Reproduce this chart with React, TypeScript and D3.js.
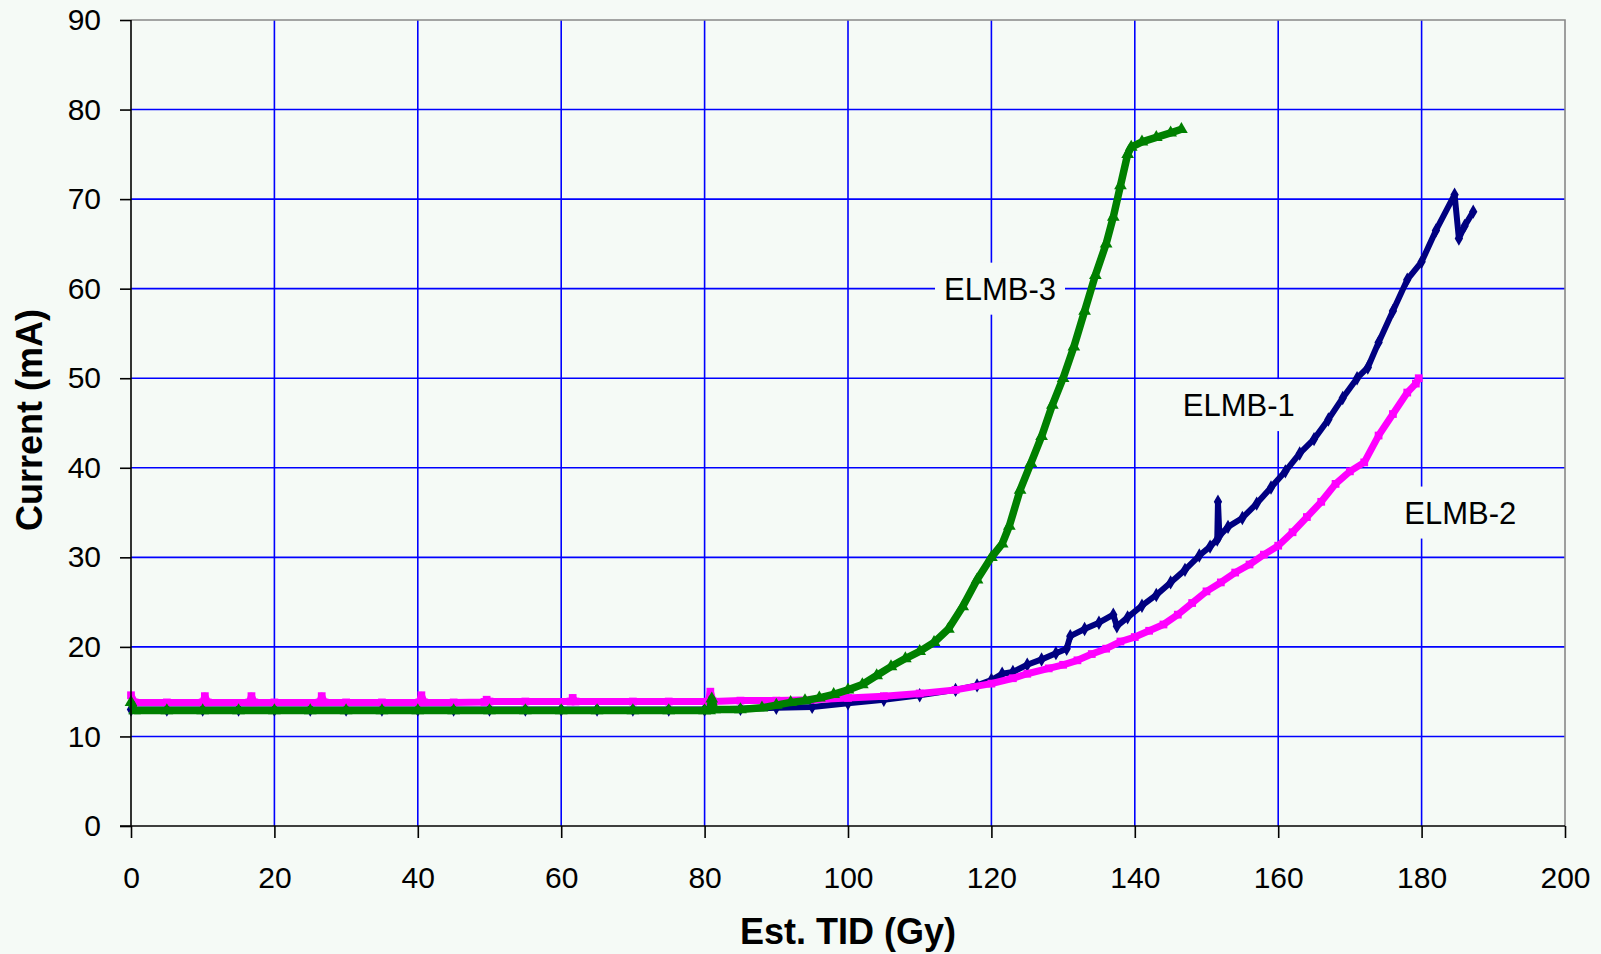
import React, { useEffect, useRef } from 'react';
import * as d3 from 'd3';

// ELMB-1 (navy, diamonds)
const elmb1X = [0, 5, 10, 15, 20, 25, 30, 35, 40, 45, 50, 55, 60, 65, 70, 75, 80, 85, 90, 95, 100, 105, 110, 115, 118, 120, 121.5, 123, 125, 127, 129, 130.5, 131, 133, 135, 137, 137.5, 139, 141, 143, 145, 147, 149, 150.5, 151.5, 151.6, 151.8, 153, 155, 157, 159, 161, 163, 165, 167, 169, 171, 172.5, 174, 176, 178, 180, 182, 184.6, 185.2, 186, 187.2];
const elmb1Y = [13.0, 13.0, 13.0, 13.0, 13.0, 13.0, 13.0, 13.0, 13.0, 13.0, 13.0, 13.0, 13.0, 13.0, 13.0, 13.0, 13.0, 13.1, 13.2, 13.3, 13.7, 14.1, 14.6, 15.2, 15.7, 16.3, 17.0, 17.2, 18.0, 18.6, 19.3, 19.8, 21.2, 22.0, 22.7, 23.6, 22.3, 23.3, 24.6, 25.8, 27.2, 28.6, 30.2, 31.2, 32.0, 36.2, 32.4, 33.4, 34.4, 36.0, 37.8, 39.6, 41.6, 43.2, 45.4, 47.8, 50.0, 51.2, 54.0, 57.5, 61.0, 63.0, 66.5, 70.5, 65.6, 67.0, 68.6];

// ELMB-2 (magenta, squares)
const elmb2X = [0, 0.5, 5, 10, 10.3, 10.7, 16.5, 16.8, 17.2, 20, 26.3, 26.6, 27, 30, 35, 40.2, 40.5, 40.9, 45, 49.3, 49.6, 50, 55, 61.3, 61.6, 62, 70, 75, 80.5, 80.8, 81.2, 85, 90, 95, 100, 105, 110, 115, 120, 123, 125, 128, 130, 132, 134, 136, 138, 140, 142, 144, 146, 148, 150, 152, 154, 156, 158, 160, 162, 164, 166, 168, 170, 172, 174, 176, 178, 179.2, 179.6];
const elmb2Y = [14.6, 13.8, 13.8, 13.8, 14.5, 13.8, 13.8, 14.5, 13.8, 13.8, 13.8, 14.5, 13.8, 13.8, 13.8, 13.8, 14.6, 13.8, 13.8, 13.85, 14.1, 13.9, 13.9, 13.9, 14.3, 13.9, 13.9, 13.9, 13.9, 15.0, 13.9, 14.0, 14.0, 14.1, 14.3, 14.5, 14.8, 15.2, 15.9, 16.5, 17.0, 17.6, 18.0, 18.5, 19.2, 19.8, 20.6, 21.1, 21.8, 22.5, 23.6, 24.9, 26.2, 27.2, 28.3, 29.2, 30.3, 31.3, 32.8, 34.5, 36.2, 38.2, 39.6, 40.6, 43.6, 46.0, 48.4, 49.4, 50.0];

// ELMB-3 (green, triangles)
const elmb3X = [0, 0.5, 5, 10, 15, 20, 25, 30, 35, 40, 45, 50, 55, 60, 65, 70, 75, 80, 80.7, 81, 81.4, 85, 88, 90, 92, 94, 96, 98, 100, 102, 104, 106, 108, 110, 112, 114, 116, 118, 120, 121.5, 122.5, 124, 125.5, 127, 128.5, 130, 131.5, 133, 134.5, 136, 137, 138, 139, 139.5, 141, 143, 145, 146.5];
const elmb3Y = [13.8, 12.9, 12.9, 12.9, 12.9, 12.9, 12.9, 12.9, 12.9, 12.9, 12.9, 12.9, 12.9, 12.9, 12.9, 12.9, 12.9, 12.9, 12.9, 14.2, 13.0, 13.0, 13.2, 13.5, 13.8, 14.0, 14.3, 14.7, 15.2, 15.8, 16.8, 17.8, 18.7, 19.5, 20.5, 22.0, 24.5, 27.5, 30.0, 31.5, 33.5, 37.5, 40.5, 43.5, 47.0, 50.0, 53.5, 57.5, 61.5, 65.0, 68.0, 71.5, 75.0, 75.8, 76.4, 76.9, 77.4, 77.8];

const seriesNames = ['ELMB-1', 'ELMB-2', 'ELMB-3'];
const labelX = [154.5, 185.4, 121.2];
const labelY = [47.0, 35.0, 60.0];

const xTicks = [0, 20, 40, 60, 80, 100, 120, 140, 160, 180, 200];
const yTicks = [0, 10, 20, 30, 40, 50, 60, 70, 80, 90];

const BG = '#f5faf6';

export default function App() {
  const ref = useRef<SVGSVGElement>(null);

  useEffect(() => {
    const W = 1601, H = 954;
    const margin = { top: 20, right: 36, bottom: 128, left: 131 };
    const svg = d3.select(ref.current);
    svg.selectAll('*').remove();

    const x = d3.scaleLinear().domain([0, 200]).range([margin.left, W - margin.right]);
    const y = d3.scaleLinear().domain([0, 90]).range([H - margin.bottom, margin.top]);

    svg.append('rect').attr('width', W).attr('height', H).attr('fill', BG);

    // grid
    const grid = svg.append('g');
    grid.selectAll('.vg').data(xTicks.filter(d => d > 0 && d < 200)).join('line')
      .attr('x1', d => x(d)).attr('x2', d => x(d))
      .attr('y1', y(90)).attr('y2', y(0))
      .attr('stroke', '#0000ff').attr('stroke-width', 1.6);
    grid.selectAll('.hg').data(yTicks.filter(d => d > 0 && d < 90)).join('line')
      .attr('x1', x(0)).attr('x2', x(200))
      .attr('y1', d => y(d)).attr('y2', d => y(d))
      .attr('stroke', '#0000ff').attr('stroke-width', 1.6);

    // top / right border
    svg.append('path')
      .attr('d', `M${x(0)},${y(90)}H${x(200)}V${y(0)}`)
      .attr('fill', 'none').attr('stroke', '#888').attr('stroke-width', 1.6);

    const series = [
      { xs: elmb1X, ys: elmb1Y, color: '#000080', sym: d3.symbolDiamond, size: 60, width: 6 },
      { xs: elmb2X, ys: elmb2Y, color: '#ff00ff', sym: d3.symbolSquare, size: 60, width: 7 },
      { xs: elmb3X, ys: elmb3Y, color: '#008000', sym: d3.symbolTriangle, size: 70, width: 7.5 },
    ];

    const line = d3.line<[number, number]>().x(d => x(d[0])).y(d => y(d[1]));

    series.forEach(s => {
      const pts: [number, number][] = s.xs.map((v, i) => [v, s.ys[i]]);
      const g = svg.append('g');
      g.append('path').attr('d', line(pts)).attr('fill', 'none')
        .attr('stroke', s.color).attr('stroke-width', s.width)
        .attr('stroke-linejoin', 'round');
      g.selectAll('path.m').data(pts).join('path').attr('class', 'm')
        .attr('transform', d => `translate(${x(d[0])},${y(d[1])})`)
        .attr('d', d3.symbol().type(s.sym).size(s.size)())
        .attr('fill', s.color);
    });

    // series labels with background boxes
    const font = '"Liberation Sans", Arial, sans-serif';
    seriesNames.forEach((name, i) => {
      const cx = x(labelX[i]), cy = y(labelY[i]);
      const g = svg.append('g');
      const t = g.append('text')
        .attr('x', cx).attr('y', cy).attr('dy', '0.36em')
        .attr('text-anchor', 'middle')
        .attr('font-family', font)
        .attr('font-size', 31).attr('fill', '#000')
        .text(name);
      const bb = (t.node() as SVGTextElement).getBBox();
      g.insert('rect', 'text')
        .attr('x', bb.x - 9).attr('y', cy - 26)
        .attr('width', bb.width + 18).attr('height', 52)
        .attr('fill', BG);
    });

    // axes
    const yAxis = svg.append('g').attr('transform', `translate(${x(0)},0)`)
      .call(d3.axisLeft(y).tickValues(yTicks).tickSize(11).tickSizeOuter(0).tickPadding(19));
    const xAxis = svg.append('g').attr('transform', `translate(0,${y(0)})`)
      .call(d3.axisBottom(x).tickValues(xTicks).tickSize(12).tickSizeOuter(0).tickPadding(29));
    [yAxis, xAxis].forEach(a => {
      a.select('.domain').remove();
      a.selectAll('line').attr('stroke', '#000').attr('stroke-width', 1.6);
      a.selectAll('text').attr('font-family', font).attr('font-size', 30).attr('fill', '#000');
    });
    svg.append('line').attr('x1', x(0)).attr('x2', x(0)).attr('y1', y(90)).attr('y2', y(0))
      .attr('stroke', '#000').attr('stroke-width', 1.6);
    svg.append('line').attr('x1', x(0) - 11).attr('x2', x(200)).attr('y1', y(0)).attr('y2', y(0))
      .attr('stroke', '#000').attr('stroke-width', 1.6);

    // titles
    svg.append('text')
      .attr('x', (x(0) + x(200)) / 2).attr('y', 944)
      .attr('text-anchor', 'middle')
      .attr('font-family', font).attr('font-weight', 'bold').attr('font-size', 36)
      .text('Est. TID (Gy)');
    svg.append('text')
      .attr('transform', `translate(42,${(y(0) + y(90)) / 2 - 3}) rotate(-90)`)
      .attr('text-anchor', 'middle')
      .attr('font-family', font).attr('font-weight', 'bold').attr('font-size', 36)
      .text('Current (mA)');
  }, []);

  return (
    <svg ref={ref} width={1601} height={954}
      style={{ position: 'absolute', left: 0, top: 0, display: 'block' }} />
  );
}
